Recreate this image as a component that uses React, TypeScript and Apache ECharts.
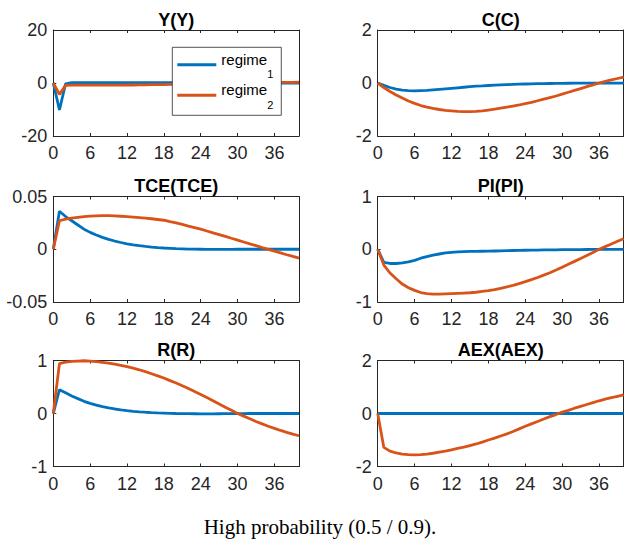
import React, { useEffect, useRef } from "react";
import * as echarts from "echarts";

const periods = [0,1,2,3,4,5,6,7,8,9,10,11,12,13,14,15,16,17,18,19,20,21,22,23,24,25,26,27,28,29,30,31,32,33,34,35,36,37,38,39,40];
const xTicks = [0, 6, 12, 18, 24, 30, 36];
const seriesNames = ["regime_1", "regime_2"];
const caption = "High probability (0.5 / 0.9).";

const yY1 = [0,-10.2,-0.3,0.1,0.1,0.1,0.1,0.1,0.1,0.1,0.1,0.1,0.1,0.1,0.1,0.1,0.1,0.1,0.1,0.1,0.1,0.05,0.05,0.05,0.05,0.05,0,0,0,0,0,0,0,0,0,0,0,0,0,0,0];
const yY2 = [0,-4.3,-0.9,-0.8,-0.8,-0.8,-0.8,-0.8,-0.8,-0.8,-0.8,-0.8,-0.75,-0.75,-0.7,-0.7,-0.65,-0.6,-0.6,-0.55,-0.5,-0.45,-0.4,-0.35,-0.3,-0.25,-0.2,-0.15,-0.1,-0.05,0,0.03,0.06,0.1,0.13,0.16,0.2,0.22,0.25,0.27,0.3];

const c1 = [0,-0.09,-0.17,-0.23,-0.27,-0.29,-0.3,-0.29,-0.28,-0.26,-0.24,-0.22,-0.2,-0.18,-0.16,-0.14,-0.12,-0.11,-0.095,-0.083,-0.072,-0.062,-0.053,-0.045,-0.038,-0.032,-0.027,-0.022,-0.018,-0.015,-0.012,-0.01,-0.008,-0.007,-0.006,-0.005,-0.004,-0.003,-0.003,-0.002,-0.002];
const c2 = [0,-0.17,-0.32,-0.45,-0.57,-0.68,-0.77,-0.85,-0.91,-0.96,-1.0,-1.03,-1.05,-1.07,-1.08,-1.08,-1.07,-1.05,-1.02,-0.99,-0.95,-0.91,-0.87,-0.83,-0.78,-0.73,-0.67,-0.61,-0.55,-0.49,-0.42,-0.35,-0.28,-0.21,-0.14,-0.07,0,0.06,0.12,0.17,0.22];

const tce1 = [0,0.036,0.031,0.027,0.023,0.019,0.016,0.0135,0.0113,0.0094,0.0078,0.0064,0.0052,0.0042,0.0034,0.0027,0.0021,0.0016,0.0012,0.0009,0.0006,0.0004,0.0002,0.0001,0,-0.0001,-0.0001,-0.0001,-0.0001,-0.0001,0,0,0,0,0,0,0,0,0,0,0];
const tce2 = [0,0.027,0.0285,0.0295,0.0303,0.031,0.0314,0.0317,0.0318,0.0318,0.0316,0.0313,0.031,0.0305,0.03,0.0295,0.0289,0.0282,0.0275,0.0262,0.025,0.0235,0.022,0.0205,0.019,0.0173,0.0156,0.0139,0.0122,0.0104,0.0087,0.0069,0.0051,0.0034,0.0016,-0.0001,-0.0018,-0.0035,-0.0052,-0.0068,-0.0084];

const pi1 = [0,-0.25,-0.27,-0.27,-0.26,-0.24,-0.21,-0.17,-0.14,-0.11,-0.09,-0.07,-0.06,-0.05,-0.045,-0.042,-0.04,-0.038,-0.036,-0.033,-0.03,-0.027,-0.024,-0.021,-0.019,-0.017,-0.015,-0.013,-0.011,-0.01,-0.009,-0.008,-0.007,-0.006,-0.005,-0.004,-0.003,-0.002,-0.002,-0.001,-0.001];
const pi2 = [0,-0.3,-0.45,-0.56,-0.66,-0.73,-0.78,-0.82,-0.84,-0.85,-0.85,-0.845,-0.84,-0.835,-0.83,-0.825,-0.815,-0.8,-0.785,-0.765,-0.74,-0.715,-0.685,-0.65,-0.615,-0.575,-0.535,-0.49,-0.445,-0.395,-0.34,-0.285,-0.23,-0.175,-0.12,-0.06,0,0.05,0.1,0.15,0.2];

const r1 = [0,0.45,0.39,0.33,0.28,0.23,0.19,0.16,0.13,0.105,0.085,0.068,0.054,0.042,0.032,0.024,0.017,0.011,0.007,0.003,0,-0.002,-0.004,-0.005,-0.006,-0.006,-0.006,-0.005,-0.004,-0.003,-0.002,-0.001,0,0,0,0,0,0,0,0,0];
const r2 = [0,0.94,0.97,0.985,0.99,0.995,0.99,0.98,0.965,0.95,0.93,0.91,0.885,0.855,0.825,0.79,0.75,0.71,0.67,0.62,0.575,0.525,0.47,0.415,0.36,0.3,0.24,0.18,0.12,0.06,0,-0.05,-0.1,-0.15,-0.195,-0.24,-0.28,-0.32,-0.355,-0.39,-0.42];

const aex1 = [0,0,0,0,0,0,0,0,0,0,0,0,0,0,0,0,0,0,0,0,0,0,0,0,0,0,0,0,0,0,0,0,0,0,0,0,0,0,0,0,0];
const aex2 = [0,-1.28,-1.42,-1.49,-1.53,-1.55,-1.56,-1.55,-1.53,-1.5,-1.46,-1.42,-1.37,-1.32,-1.27,-1.21,-1.15,-1.08,-1.0,-0.93,-0.85,-0.77,-0.68,-0.58,-0.48,-0.39,-0.3,-0.21,-0.12,-0.04,0.05,0.12,0.2,0.27,0.34,0.41,0.48,0.54,0.6,0.65,0.7];

const panelTitles = ["Y(Y)", "C(C)", "TCE(TCE)", "PI(PI)", "R(R)", "AEX(AEX)"];
const panelRegime1 = [yY1, c1, tce1, pi1, r1, aex1];
const panelRegime2 = [yY2, c2, tce2, pi2, r2, aex2];
const panelYTicks = [[-20, 0, 20], [-2, 0, 2], [-0.05, 0, 0.05], [-1, 0, 1], [-1, 0, 1], [-2, 0, 2]];

const COLORS = ["#0072BD", "#D95319"];
const AXIS = "#262626";
const SANS = "'Liberation Sans', Arial, Helvetica, sans-serif";

const colLeft = [53.3, 377.7];
const colWidth = [245.7, 246];
const rowTop = [30, 196.5, 360.5];
const rowHeight = [106, 105.5, 106];

function buildOption() {
  const grid: any[] = [];
  const xAxis: any[] = [];
  const yAxis: any[] = [];
  const series: any[] = [];
  const title: any[] = [];
  for (let i = 0; i < 6; i++) {
    const col = i % 2;
    const row = Math.floor(i / 2);
    grid.push({ left: colLeft[col], top: rowTop[row], width: colWidth[col], height: rowHeight[row], containLabel: false });
    title.push({
      text: panelTitles[i],
      left: colLeft[col] + colWidth[col] / 2,
      top: rowTop[row] - 10.5,
      textAlign: "center",
      textVerticalAlign: "middle",
      padding: 0,
      textStyle: { fontFamily: SANS, fontSize: 18, fontWeight: "bold", color: "#000" },
    });
    const lineStyle = { color: AXIS, width: 1 };
    const xCommon = { type: "value", gridIndex: i, min: 0, max: 40, interval: 6, splitLine: { show: false } };
    xAxis.push({
      ...xCommon,
      position: "bottom",
      axisLine: { show: true, onZero: false, lineStyle },
      axisTick: { show: true, inside: true, length: 3, customValues: xTicks, lineStyle },
      axisLabel: {
        show: true, customValues: xTicks, margin: 8, fontSize: 18, fontFamily: SANS, color: AXIS,
        formatter: (v: number) => (xTicks.indexOf(v) >= 0 ? String(v) : ""),
      },
    });
    xAxis.push({
      ...xCommon,
      position: "top",
      axisLine: { show: true, onZero: false, lineStyle },
      axisTick: { show: true, inside: true, length: 3, customValues: xTicks, lineStyle },
      axisLabel: { show: false },
    });
    const ticks = panelYTicks[i];
    const yCommon = {
      type: "value", gridIndex: i, min: ticks[0], max: ticks[ticks.length - 1],
      interval: ticks[1] - ticks[0], splitLine: { show: false },
    };
    yAxis.push({
      ...yCommon,
      position: "left",
      axisLine: { show: true, onZero: false, lineStyle },
      axisTick: { show: true, inside: true, length: 3, customValues: ticks, lineStyle },
      axisLabel: { show: true, customValues: ticks, margin: 6, fontSize: 18, fontFamily: SANS, color: AXIS,
        formatter: (v: number) => String(v) },
    });
    yAxis.push({
      ...yCommon,
      position: "right",
      axisLine: { show: true, onZero: false, lineStyle },
      axisTick: { show: true, inside: true, length: 3, customValues: ticks, lineStyle },
      axisLabel: { show: false },
    });
    const regimes = [panelRegime1[i], panelRegime2[i]];
    regimes.forEach((vals, k) => {
      series.push({
        type: "line",
        name: seriesNames[k],
        xAxisIndex: 2 * i,
        yAxisIndex: 2 * i,
        data: periods.map((p, j) => [p, vals[j]]),
        symbol: "none",
        showSymbol: false,
        lineStyle: { color: COLORS[k], width: 2.8 },
        itemStyle: { color: COLORS[k] },
        z: 2 + k,
        silent: true,
      });
    });
  }
  title.push({
    text: caption,
    left: 320,
    top: 527,
    textAlign: "center",
    textVerticalAlign: "middle",
    padding: 0,
    textStyle: { fontFamily: "'Liberation Serif', 'Times New Roman', serif", fontSize: 21, fontWeight: "normal", color: "#000" },
  });
  return {
    animation: false,
    backgroundColor: "#fff",
    title,
    grid,
    xAxis,
    yAxis,
    series,
    legend: {
      data: seriesNames,
      orient: "vertical",
      left: 172.3,
      top: 47.3,
      padding: [4.5, 8, 5, 5],
      itemGap: 2.5,
      itemWidth: 39,
      itemHeight: 3,
      icon: "rect",
      selectedMode: false,
      borderColor: AXIS,
      borderWidth: 0.8,
      backgroundColor: "#fff",
      z: 10,
      formatter: (name: string) => {
        const parts = name.split("_");
        return "{m|" + parts[0] + "}{s|" + parts[1] + "}";
      },
      textStyle: {
        color: "#000",
        fontFamily: SANS,
        rich: {
          m: { fontFamily: SANS, fontSize: 15, lineHeight: 26, verticalAlign: "top", color: "#000" },
          s: { fontFamily: SANS, fontSize: 11, lineHeight: 11, padding: [17, 0, 0, 0], verticalAlign: "top", color: "#000" },
        },
      },
    },
  };
}

export default function App() {
  const ref = useRef<HTMLDivElement>(null);
  useEffect(() => {
    if (!ref.current) return;
    const chart = echarts.init(ref.current, null, { renderer: "svg" });
    chart.setOption(buildOption() as any);
    return () => chart.dispose();
  }, []);
  return (
    <div
      ref={ref}
      style={{ position: "absolute", left: 0, top: 0, width: 624, height: 544, background: "#fff" }}
    />
  );
}
